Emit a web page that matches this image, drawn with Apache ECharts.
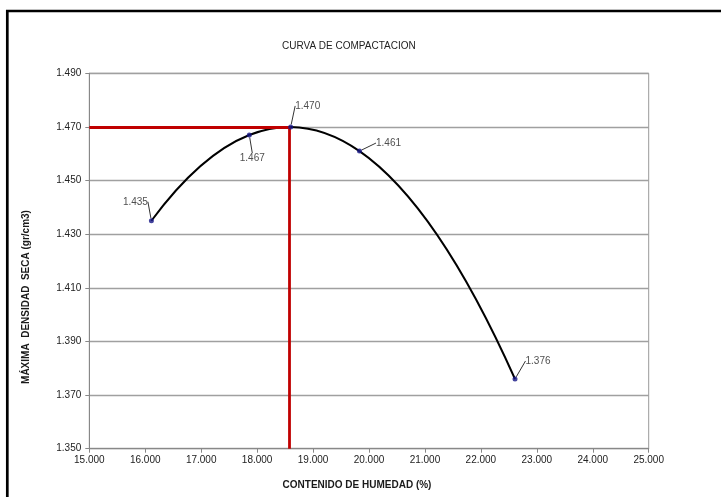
<!DOCTYPE html>
<html>
<head>
<meta charset="utf-8">
<script src="https://cdn.jsdelivr.net/npm/echarts@6/dist/echarts.min.js"></script>
<style>
html,body{margin:0;padding:0;background:#fff;}
#chart{width:721px;height:497px;}
</style>
</head>
<body>
<div id="chart"></div>
<script>
// ---- data ----
const titleText = 'CURVA DE COMPACTACION';
const xAxisTitle = 'CONTENIDO DE HUMEDAD (%)';
const yAxisTitle = 'MÁXIMA  DENSIDAD  SECA (gr/cm3)';
const moisture = [16.11, 17.86, 18.60, 19.83, 22.61];
const density = [1.435, 1.467, 1.470, 1.461, 1.376];
const optimumMoisture = 18.58;
const maxDensity = 1.470;
const xTicks = { min: 15, max: 25, step: 1 };
const yTicks = { min: 1.35, max: 1.49, step: 0.02 };

// ---- layout / style ----
const labelOffsets = [[-16, -19], [3, 23], [17, -21], [29, -8], [23, -18]];
const points = moisture.map((x, i) => [x, density[i]]);

// smooth-line tangents through the measured points (3-point derivative estimate)
function tangent(i) {
  const n = moisture.length;
  const dd = (a, b) => (density[b] - density[a]) / (moisture[b] - moisture[a]);
  if (i === 0) {
    const d01 = dd(0, 1), d12 = dd(1, 2);
    const d012 = (d12 - d01) / (moisture[2] - moisture[0]);
    return d01 + d012 * (moisture[0] - moisture[1]);
  }
  if (i === n - 1) {
    const a = n - 3, b = n - 2, c = n - 1;
    const dab = dd(a, b), dbc = dd(b, c);
    const dabc = (dbc - dab) / (moisture[c] - moisture[a]);
    return dbc + dabc * (moisture[c] - moisture[b]);
  }
  const h0 = moisture[i] - moisture[i - 1], h1 = moisture[i + 1] - moisture[i];
  return (h0 * h0 * (density[i + 1] - density[i]) + h1 * h1 * (density[i] - density[i - 1])) /
    (h0 * h1 * (h0 + h1));
}

const chart = echarts.init(document.getElementById('chart'), null, { renderer: 'canvas' });
const font = 'Liberation Sans, Arial, sans-serif';

chart.setOption({
  animation: false,
  backgroundColor: '#fff',
  textStyle: { fontFamily: font },
  title: {
    text: titleText,
    left: 277, top: 36,
    textStyle: { fontSize: 10, fontWeight: 'normal', color: '#222', fontFamily: font }
  },
  grid: {
    left: 89.3, right: 72.3, top: 73.3, bottom: 48.3,
    show: true, borderColor: '#999', borderWidth: 1, backgroundColor: 'transparent'
  },
  xAxis: {
    type: 'value', min: xTicks.min, max: xTicks.max, interval: xTicks.step,
    axisLine: { show: true, lineStyle: { color: '#888', width: 1 } },
    axisTick: { show: true, length: 4, lineStyle: { color: '#888' } },
    axisLabel: { margin: 7, fontSize: 10, color: '#222', fontFamily: font,
      formatter: v => v.toFixed(3) },
    splitLine: { show: false }
  },
  yAxis: {
    type: 'value', min: yTicks.min, max: yTicks.max, interval: yTicks.step,
    axisLine: { show: true, lineStyle: { color: '#888', width: 1 } },
    axisTick: { show: true, length: 4, lineStyle: { color: '#888' } },
    axisLabel: { margin: 8, fontSize: 10, color: '#222', fontFamily: font,
      formatter: v => v.toFixed(3) },
    splitLine: { show: true, lineStyle: { color: '#a0a0a0', width: 1.3 } }
  },
  graphic: [
    { type: 'rect', shape: { x: 7.3, y: 11, width: 780, height: 540 },
      style: { fill: 'none', stroke: '#000', lineWidth: 2.7 }, silent: true },
    { type: 'text', x: 26, y: 297, rotation: Math.PI / 2,
      style: { text: yAxisTitle, font: 'bold 10px ' + font, fill: '#1a1a1a',
        textAlign: 'center', textVerticalAlign: 'middle' } },
    { type: 'text', x: 357, y: 485,
      style: { text: xAxisTitle, font: 'bold 10px ' + font, fill: '#1a1a1a',
        textAlign: 'center', textVerticalAlign: 'middle' } }
  ],
  series: [
    {
      // red reference lines for optimum moisture / maximum density
      type: 'line',
      data: [],
      z: 2,
      markLine: {
        silent: true,
        symbol: 'none',
        label: { show: false },
        lineStyle: { color: '#c00000', width: 2.8, type: 'solid' },
        data: [
          [{ coord: [xTicks.min, maxDensity] }, { coord: [optimumMoisture, maxDensity] }],
          [{ coord: [optimumMoisture, maxDensity] }, { coord: [optimumMoisture, yTicks.min] }]
        ]
      }
    },
    {
      // smooth curve through the measured points
      type: 'custom',
      data: points,
      z: 3,
      silent: true,
      renderItem: (params, api) => {
        const i = params.dataIndex;
        if (i >= moisture.length - 1) return null;
        const x0 = api.value(0), y0 = api.value(1);
        const x1 = moisture[i + 1], y1 = density[i + 1];
        const h = (x1 - x0) / 3;
        const m0 = tangent(i), m1 = tangent(i + 1);
        const p0 = api.coord([x0, y0]);
        const c1 = api.coord([x0 + h, y0 + h * m0]);
        const c2 = api.coord([x1 - h, y1 - h * m1]);
        const p1 = api.coord([x1, y1]);
        return {
          type: 'bezierCurve',
          shape: { x1: p0[0], y1: p0[1], cpx1: c1[0], cpy1: c1[1],
                   cpx2: c2[0], cpy2: c2[1], x2: p1[0], y2: p1[1] },
          style: { stroke: '#000', lineWidth: 2, fill: null }
        };
      }
    },
    {
      type: 'scatter',
      data: points,
      symbol: 'circle',
      symbolSize: 5,
      itemStyle: { color: '#141485' },
      z: 5,
      label: {
        show: true, position: 'inside', fontSize: 10, color: '#222', fontFamily: font,
        formatter: p => p.value[1].toFixed(3)
      },
      labelLine: { show: true, lineStyle: { color: '#333', width: 1 } },
      labelLayout: p => ({ dx: labelOffsets[p.dataIndex][0], dy: labelOffsets[p.dataIndex][1] })
    }
  ]
});
</script>
</body>
</html>
